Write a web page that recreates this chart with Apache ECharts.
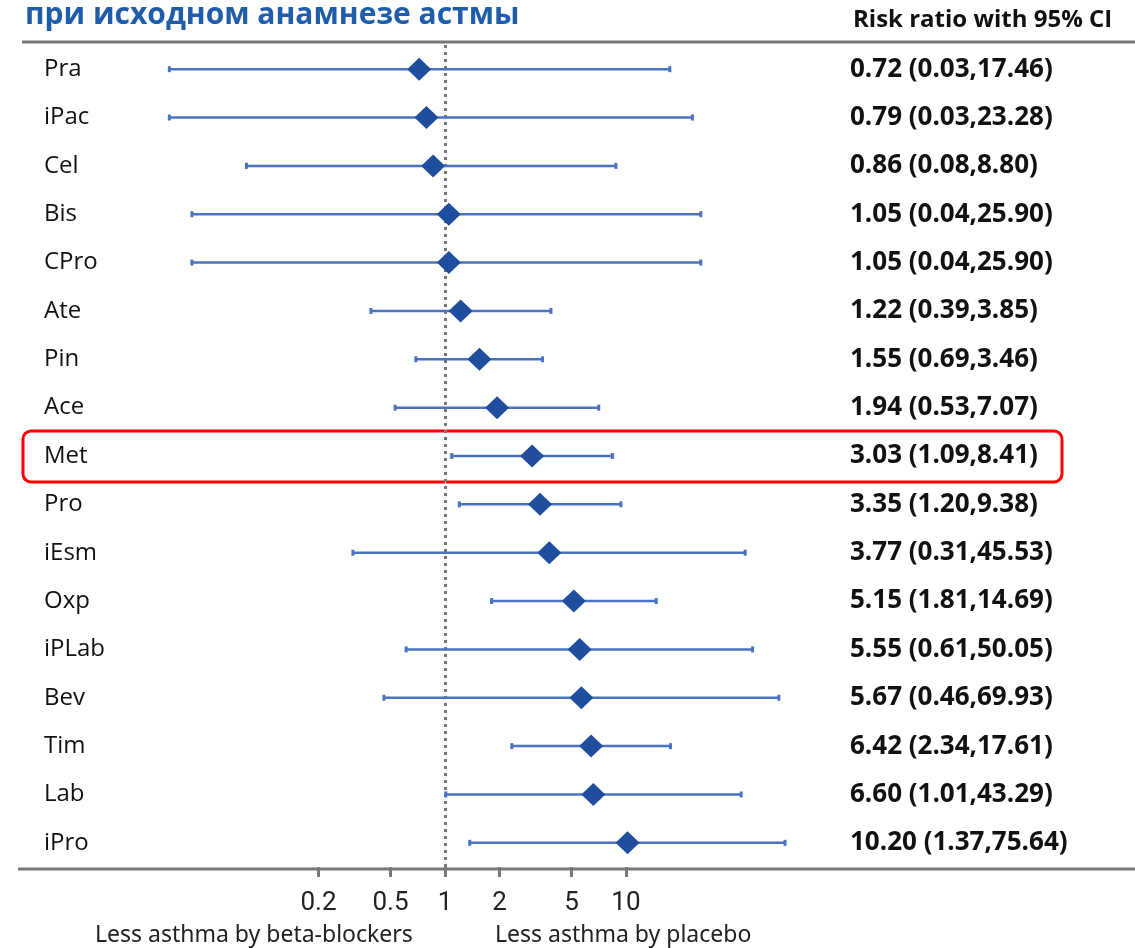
<!DOCTYPE html>
<html>
<head>
<meta charset="utf-8">
<script src="https://cdn.jsdelivr.net/npm/echarts@6.0.0/dist/echarts.min.js"></script>
<style>
  html, body { margin: 0; padding: 0; background: #fff; }
  #main { width: 1135px; height: 948px; }
</style>
</head>
<body>
<div id="main"></div>
<script>
var drugs = ['Pra', 'iPac', 'Cel', 'Bis', 'CPro', 'Ate', 'Pin', 'Ace', 'Met', 'Pro', 'iEsm', 'Oxp', 'iPLab', 'Bev', 'Tim', 'Lab', 'iPro'];
var ratio = [0.72, 0.79, 0.86, 1.05, 1.05, 1.22, 1.55, 1.94, 3.03, 3.35, 3.77, 5.15, 5.55, 5.67, 6.42, 6.60, 10.20];
var lower = [0.03, 0.03, 0.08, 0.04, 0.04, 0.39, 0.69, 0.53, 1.09, 1.20, 0.31, 1.81, 0.61, 0.46, 2.34, 1.01, 1.37];
var upper = [17.46, 23.28, 8.80, 25.90, 25.90, 3.85, 3.46, 7.07, 8.41, 9.38, 45.53, 14.69, 50.05, 69.93, 17.61, 43.29, 75.64];
var tickValues = [0.2, 0.5, 1, 2, 5, 10];

var dom = document.getElementById('main');
var myChart = echarts.init(dom);

var lg = function (v) { return Math.log10(v); };

// CI text for the right column
var ciLabels = drugs.map(function (d, i) {
    return ratio[i].toFixed(2) + ' (' + lower[i].toFixed(2) + ',' + upper[i].toFixed(2) + ')';
});

var barData = drugs.map(function (d, i) { return [lg(lower[i]), lg(upper[i]), i]; });
var pointData = drugs.map(function (d, i) { return [lg(ratio[i]), i]; });
var tickLog = tickValues.map(lg);

var option = {
    animation: false,
    title: [
        {
            text: 'при исходном анамнезе астмы',
            left: 20,
            top: -5,
            textStyle: { fontFamily: 'Open Sans', fontSize: 30, fontWeight: 'bold', color: '#1f5ca9' }
        },
        {
            text: 'Risk ratio with 95% CI',
            left: 848,
            top: 3,
            textStyle: { fontFamily: 'Open Sans', fontSize: 24, fontWeight: 'bold', color: '#111' }
        }
    ],
    grid: { left: 155, right: 330, top: 45, bottom: 81 },
    xAxis: {
        type: 'value',
        min: -1.602,
        max: 1.989,
        splitLine: { show: false },
        axisLine: { show: false },
        axisTick: {
            show: true,
            customValues: tickLog,
            length: 10,
            lineStyle: { color: '#777', width: 3 }
        },
        axisLabel: {
            customValues: tickLog,
            margin: 23,
            fontFamily: 'Roboto',
            fontSize: 26,
            color: '#222',
            formatter: function (v) {
                var best = tickValues[0];
                tickValues.forEach(function (t) { if (Math.abs(lg(t) - v) < Math.abs(lg(best) - v)) best = t; });
                return String(best);
            }
        }
    },
    yAxis: [
        {
            type: 'category',
            data: drugs,
            inverse: true,
            axisTick: { show: false },
            axisLine: { show: true, lineStyle: { color: '#f2f2f2', width: 1 } },
            axisLabel: { align: 'left', margin: 111, fontFamily: 'Open Sans', fontSize: 24, color: '#111' }
        },
        {
            type: 'category',
            data: ciLabels,
            inverse: true,
            position: 'right',
            axisTick: { show: false },
            axisLine: { show: false },
            axisLabel: { align: 'left', margin: 45, fontFamily: 'Open Sans', fontSize: 26, fontWeight: 'bold', color: '#111' }
        }
    ],
    series: [
        {
            type: 'custom',
            data: barData,
            encode: { x: [0, 1], y: 2 },
            renderItem: function (params, api) {
                var a = api.coord([api.value(0), api.value(2)]);
                var b = api.coord([api.value(1), api.value(2)]);
                var st = { stroke: '#4a72c0', lineWidth: 2.5 };
                return {
                    type: 'group',
                    children: [
                        { type: 'line', shape: { x1: a[0], y1: a[1], x2: b[0], y2: b[1] }, style: st },
                        { type: 'line', shape: { x1: a[0], y1: a[1] - 3, x2: a[0], y2: a[1] + 3 }, style: { stroke: '#4a72c0', lineWidth: 3 } },
                        { type: 'line', shape: { x1: b[0], y1: b[1] - 3, x2: b[0], y2: b[1] + 3 }, style: { stroke: '#4a72c0', lineWidth: 3 } }
                    ]
                };
            },
            z: 2
        },
        {
            type: 'scatter',
            data: pointData,
            symbol: 'diamond',
            symbolSize: [24, 23],
            itemStyle: { color: '#1f4e9e', opacity: 1 },
            z: 4,
            markLine: {
                silent: true,
                symbol: 'none',
                label: { show: false },
                lineStyle: { color: '#777', type: [3, 4], width: 3 },
                data: [{ xAxis: 0 }],
                z: 1
            }
        }
    ],
    graphic: [
        { type: 'line', shape: { x1: 22, y1: 42, x2: 1135, y2: 42 }, style: { stroke: '#777', lineWidth: 3 } },
        { type: 'line', shape: { x1: 18, y1: 869, x2: 1135, y2: 869 }, style: { stroke: '#777', lineWidth: 3 } },
        { type: 'rect', shape: { x: 23, y: 431, width: 1039, height: 51, r: 8 }, style: { fill: 'none', stroke: '#f00', lineWidth: 3 } },
        { type: 'text', left: 95, top: 924, style: { text: 'Less asthma by beta-blockers', fontFamily: 'Noto Sans', fontSize: 23, fill: '#222' } },
        { type: 'text', left: 495, top: 924, style: { text: 'Less asthma by placebo', fontFamily: 'Noto Sans', fontSize: 23, fill: '#222' } }
    ]
};

if (option && typeof option === 'object') {
    myChart.setOption(option, true);
}
window.addEventListener('resize', function () {
    myChart.resize();
});
</script>
</body>
</html>
